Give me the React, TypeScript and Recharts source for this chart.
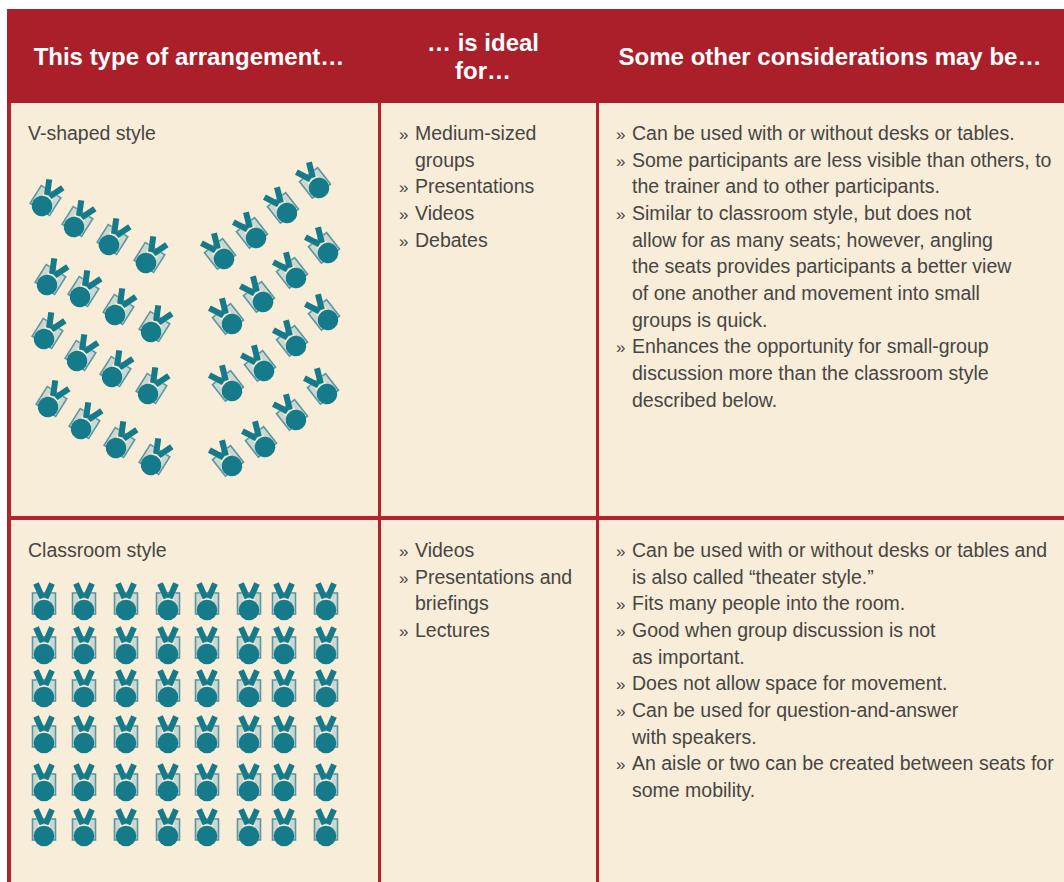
import React from "react";
import { ScatterChart, Scatter, XAxis, YAxis, ReferenceArea } from "recharts";

const W = 1064;
const H = 882;
const RED = "#aa1f2a";
const LINE = "#b5222f";
const CREAM = "#f8edd8";
const TEAL = "#157a89";
const FRAME = "#5a96a1";
const SEAT = "#b0c8c5";
const INK = "#474543";
const FONT = "'Liberation Sans', Arial, sans-serif";

const headerLabels = ["This type of arrangement…", "… is ideal", "for…", "Some other considerations may be…"];

const vStyleType = ["V-shaped style"];
const vStyleIdeal = ["» Medium-sized", "groups", "» Presentations", "» Videos", "» Debates"];
const vStyleNotes = [
  "» Can be used with or without desks or tables.",
  "» Some participants are less visible than others, to",
  "the trainer and to other participants.",
  "» Similar to classroom style, but does not",
  "allow for as many seats; however, angling",
  "the seats provides participants a better view",
  "of one another and movement into small",
  "groups is quick.",
  "» Enhances the opportunity for small-group",
  "discussion more than the classroom style",
  "described below.",
];
const classType = ["Classroom style"];
const classIdeal = ["» Videos", "» Presentations and", "briefings", "» Lectures"];
const classNotes = [
  "» Can be used with or without desks or tables and",
  "is also called “theater style.”",
  "» Fits many people into the room.",
  "» Good when group discussion is not",
  "as important.",
  "» Does not allow space for movement.",
  "» Can be used for question-and-answer",
  "with speakers.",
  "» An aisle or two can be created between seats for",
  "some mobility.",
];

// seat head positions
const vLeftSeats: [number, number][] = [
  [42, 206], [74, 227], [109, 245], [146, 263],
  [47, 285], [80, 297], [115, 315], [151, 332],
  [44, 339], [77, 361], [112, 377], [148, 394],
  [48, 407], [81, 429], [116, 448], [151, 465],
];
const vRightSeats: [number, number][] = [
  [224, 259], [256, 238], [287, 213], [319, 188],
  [232, 324], [263, 302], [296, 278], [328, 253],
  [232, 391], [264, 371], [296, 346], [328, 320],
  [232, 466], [265, 447], [296, 420], [327, 394],
];
const classColumns = [44, 84, 126, 168, 207, 249, 284, 326];
const classRows = [610, 654, 697, 743, 791, 836];

const seats = (list: [number, number][], angle: number) => list.map(([x, y]) => ({ x, y, angle }));
const leftData = seats(vLeftSeats, 32);
const rightData = seats(vRightSeats, -38);
const classData = classRows.flatMap((y) => classColumns.map((x) => ({ x, y, angle: 0 })));

const Chair = (props: any) => {
  const { cx, cy, payload } = props;
  return (
    <g transform={`translate(${cx},${cy}) rotate(${payload.angle})`}>
      <rect x={-11.5} y={-17} width={23} height={21} fill="#cdd8cf" stroke={FRAME} strokeWidth={1.6} />
      <polygon points="-8,-17 8,-17 4,-11 -4,-11" fill={SEAT} />
      <line x1={-6} y1={-10.5} x2={6} y2={-10.5} stroke={CREAM} strokeWidth={2} />
      <line x1={-8} y1={-26.5} x2={-1.5} y2={-12} stroke={TEAL} strokeWidth={6} />
      <line x1={8} y1={-26.5} x2={1.5} y2={-12} stroke={TEAL} strokeWidth={6} />
      <circle cx={0} cy={0} r={10.3} fill={TEAL} />
    </g>
  );
};

type Line = { x: number; y: number; text: string; bullet: boolean };
const STEP = 26.65;
const block = (lines: string[], x: number, startY: number): Line[] =>
  lines.map((l, i) => {
    const bullet = l.startsWith("» ");
    return { x, y: startY + i * STEP, text: bullet ? l.slice(2) : l, bullet };
  });

const bodyLines: Line[] = [
  ...block(vStyleType, 28, 140),
  ...block(vStyleIdeal, 399, 140),
  ...block(vStyleNotes, 616, 140),
  ...block(classType, 28, 557),
  ...block(classIdeal, 399, 557),
  ...block(classNotes, 616, 557),
];

const BodyText = (props: any) => {
  const { cx, cy, payload } = props;
  const indent = payload.x !== 28 ? 16 : 0;
  return (
    <g fontFamily={FONT} fontSize={19.5} fill={INK}>
      {payload.bullet ? <text x={cx} y={cy} fontSize={17}>»</text> : null}
      <text x={cx + indent} y={cy}>{payload.text}</text>
    </g>
  );
};

const headerData = [
  { x: 189, y: 65, text: headerLabels[0] },
  { x: 483, y: 51, text: headerLabels[1] },
  { x: 483, y: 79, text: headerLabels[2] },
  { x: 830, y: 65, text: headerLabels[3] },
];
const HeaderText = (props: any) => {
  const { cx, cy, payload } = props;
  return (
    <text x={cx} y={cy} textAnchor="middle" fontFamily={FONT} fontSize={24} fontWeight={700} fill="#ffffff">
      {payload.text}
    </text>
  );
};

const none = { stroke: "none" };

export default function App() {
  return (
    <div style={{ position: "absolute", left: 0, top: 0, width: W, height: H }}>
      <ScatterChart width={W} height={H} margin={{ top: 0, right: 0, bottom: 0, left: 0 }}>
        <XAxis type="number" dataKey="x" domain={[0, W]} hide allowDataOverflow />
        <YAxis type="number" dataKey="y" domain={[0, H]} reversed hide allowDataOverflow />
        <ReferenceArea x1={7} x2={W} y1={9} y2={H} fill={CREAM} fillOpacity={1} {...none} />
        <ReferenceArea x1={7} x2={W} y1={9} y2={103} fill={RED} fillOpacity={1} {...none} />
        <ReferenceArea x1={7} x2={11} y1={103} y2={H} fill={LINE} fillOpacity={1} {...none} />
        <ReferenceArea x1={378} x2={381} y1={103} y2={H} fill={LINE} fillOpacity={1} {...none} />
        <ReferenceArea x1={596} x2={599} y1={103} y2={H} fill={LINE} fillOpacity={1} {...none} />
        <ReferenceArea x1={7} x2={W} y1={516} y2={520} fill={LINE} fillOpacity={1} {...none} />
        <Scatter data={leftData} shape={Chair} isAnimationActive={false} />
        <Scatter data={rightData} shape={Chair} isAnimationActive={false} />
        <Scatter data={classData} shape={Chair} isAnimationActive={false} />
        <Scatter data={bodyLines} shape={BodyText} isAnimationActive={false} />
        <Scatter data={headerData} shape={HeaderText} isAnimationActive={false} />
      </ScatterChart>
    </div>
  );
}
